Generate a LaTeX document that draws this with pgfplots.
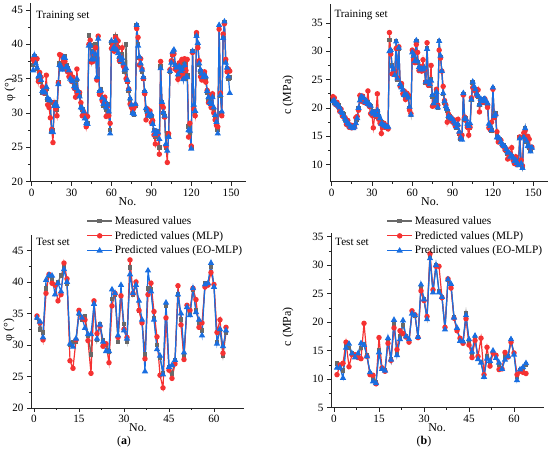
\documentclass[border=0pt]{standalone}
\usepackage{fontspec}
\setmainfont{Liberation Serif}
\usepackage{pgfplots}
\usepackage{pgfplotstable}
\pgfplotsset{compat=1.18}
\definecolor{gr}{RGB}{105,105,105}
\definecolor{rd}{RGB}{245,50,50}
\definecolor{bl}{RGB}{25,110,225}

\pgfplotstableread{
n M R B
1 37.0 37.8 36.2
2 38.3 37.5 38.4
3 37.5 38.0 37.2
4 36.5 37.9 36.6
5 35.0 34.6 35.3
6 35.8 35.9 35.5
7 34.5 35.2 34.8
8 33.0 33.8 33.2
9 33.5 32.9 33.0
10 32.8 33.2 33.0
11 33.5 35.5 33.8
12 32.0 31.2 32.2
13 31.8 30.8 31.9
14 31.5 29.3 31.8
15 27.3 27.6 27.3
16 27.5 25.7 27.2
17 31.2 31.5 31.0
18 31.5 30.6 31.4
19 30.5 29.6 31.0
20 34.5 34.4 34.2
21 37.2 38.5 37.0
22 37.0 38.4 36.8
23 36.5 36.8 36.3
24 38.0 37.6 38.1
25 38.2 37.5 38.0
26 37.0 36.5 36.7
27 36.5 36.0 36.6
28 36.0 35.3 36.2
29 35.5 35.8 35.0
30 35.0 34.6 34.8
31 34.5 35.2 34.6
32 34.0 33.6 33.9
33 33.5 32.3 33.6
34 34.8 36.4 35.0
35 33.0 32.8 33.2
36 32.5 33.0 32.4
37 31.0 31.5 30.8
38 30.5 29.6 30.7
39 30.0 30.2 30.2
40 29.5 29.8 29.2
41 28.3 28.0 28.5
42 28.5 29.5 28.4
43 41.3 40.0 39.8
44 39.8 40.6 39.9
45 37.5 37.4 37.8
46 39.0 37.5 38.8
47 38.0 38.6 37.8
48 40.0 39.5 38.5
49 35.0 34.8 35.2
50 41.0 41.2 40.8
51 33.0 32.7 33.2
52 33.5 33.0 33.3
53 32.0 31.8 32.2
54 31.0 31.5 31.3
55 32.0 32.3 31.8
56 30.5 29.5 30.8
57 31.3 31.0 31.2
58 30.0 29.6 30.2
59 27.5 28.5 27.0
60 40.3 39.4 40.5
61 39.5 39.8 39.3
62 40.0 39.0 39.6
63 41.2 41.0 40.5
64 39.0 39.5 39.2
65 39.5 40.5 38.7
66 38.0 37.6 38.2
67 37.5 38.2 37.7
68 38.5 39.5 38.0
69 37.0 36.8 37.2
70 36.0 36.5 36.3
71 40.0 35.0 36.5
72 34.5 34.6 34.8
73 33.3 33.5 33.5
74 32.0 31.3 32.1
75 31.0 30.8 31.2
76 30.0 30.5 30.0
77 29.8 30.8 29.8
78 31.0 31.2 31.3
79 42.7 42.3 42.8
80 40.0 41.0 39.8
81 38.0 37.0 38.2
82 37.0 37.9 37.2
83 36.0 36.4 36.3
84 35.0 35.0 35.2
85 33.0 32.8 33.2
86 30.5 29.0 30.7
87 30.2 30.6 30.2
88 30.0 29.8 29.6
89 29.7 30.3 29.6
90 29.5 28.6 29.8
91 28.5 28.9 28.4
92 27.5 26.8 27.4
93 26.5 25.5 26.9
94 27.0 27.3 27.3
95 27.3 26.9 27.2
96 25.0 24.0 26.2
97 36.8 37.5 36.5
98 31.5 31.2 31.6
99 30.0 30.8 30.1
100 29.5 29.4 29.6
101 25.0 25.2 25.5
102 27.0 22.8 24.5
103 26.8 27.0 26.5
104 36.0 36.3 36.1
105 37.5 37.6 37.3
106 38.5 38.5 38.9
107 39.0 38.6 39.2
108 37.0 36.4 37.0
109 36.5 36.2 36.6
110 35.5 34.9 35.6
111 37.0 37.3 36.8
112 36.0 35.4 36.1
113 36.5 37.8 36.4
114 35.0 35.5 34.9
115 37.5 37.9 37.0
116 35.0 36.2 35.2
117 35.5 37.8 35.2
118 28.0 26.5 27.5
119 27.0 28.5 27.4
120 25.0 25.2 24.8
121 39.0 38.8 39.0
122 31.0 30.6 31.2
123 30.0 29.6 30.3
124 41.5 41.7 41.2
125 40.0 39.5 40.2
126 37.0 37.6 37.2
127 36.0 35.3 36.3
128 35.5 34.8 35.7
129 35.0 35.6 35.2
130 35.8 36.0 35.5
131 35.0 34.5 35.3
132 33.0 33.3 33.2
133 32.0 31.5 32.3
134 31.5 32.5 31.6
135 31.0 30.8 31.3
136 32.5 32.8 32.3
137 30.5 30.0 30.8
138 29.5 29.0 29.7
139 28.5 28.2 28.7
140 27.5 28.0 27.0
141 42.5 42.2 42.8
142 32.5 32.9 32.6
143 30.0 29.6 30.2
144 41.0 41.5 40.9
145 43.2 43.0 43.3
146 37.5 37.8 37.3
147 36.5 36.0 36.6
148 35.0 36.4 35.3
149 35.2 36.1 32.9
}\tabA

\pgfplotstableread{
n M R B
1 21.5 22.0 21.2
2 21.0 21.8 21.3
3 21.0 20.6 20.8
4 20.8 21.0 20.6
5 20.5 20.2 20.4
6 20.0 19.4 20.1
7 19.5 19.8 19.4
8 19.0 18.6 19.1
9 18.8 18.4 18.6
10 18.0 18.3 18.1
11 17.5 17.1 17.7
12 17.5 17.8 17.3
13 17.0 16.6 17.1
14 16.8 17.0 16.7
15 16.8 16.5 16.6
16 16.5 16.9 16.4
17 16.8 16.6 16.7
18 17.5 18.3 17.3
19 18.0 18.5 18.2
20 20.0 19.6 20.0
21 21.5 22.2 21.3
22 21.8 21.2 22.0
23 22.0 22.1 21.8
24 21.5 21.0 21.7
25 21.2 21.4 21.0
26 21.0 20.8 21.2
27 21.0 23.0 20.7
28 20.5 20.3 20.6
29 20.3 19.0 20.4
30 19.0 18.7 19.3
31 19.5 16.5 19.0
32 19.0 18.6 19.2
33 18.5 19.3 18.7
34 19.5 22.5 19.6
35 18.5 18.0 18.8
36 18.0 17.3 18.2
37 17.5 15.5 17.2
38 17.0 16.6 17.1
39 17.0 17.3 16.9
40 16.8 16.6 16.8
41 16.5 16.9 16.6
42 16.5 16.3 16.7
43 32.0 33.3 30.0
44 30.0 29.5 30.2
45 27.5 26.0 27.3
46 26.5 26.2 26.8
47 26.0 26.5 25.8
48 31.8 30.5 31.7
49 25.0 25.3 25.2
50 30.5 30.8 30.6
51 24.0 23.8 24.2
52 23.8 24.3 23.6
53 23.0 22.5 23.2
54 22.5 23.0 22.3
55 22.0 21.5 22.2
56 22.5 22.6 22.3
57 22.0 22.3 21.8
58 20.0 19.6 20.2
59 18.8 19.0 18.8
60 30.0 30.2 29.8
61 29.0 28.5 29.2
62 28.5 28.0 28.3
63 31.8 31.2 31.9
64 28.0 29.8 28.2
65 27.0 26.6 27.2
66 27.0 27.3 26.8
67 26.8 26.5 26.9
68 27.0 28.5 26.8
69 27.0 26.7 27.1
70 24.5 24.6 24.6
71 30.5 31.5 30.4
72 24.5 24.0 24.6
73 24.0 24.3 24.2
74 25.0 27.5 24.8
75 22.0 20.3 22.3
76 20.5 20.4 20.8
77 21.0 20.8 21.2
78 23.0 23.3 22.8
79 20.0 20.5 20.1
80 31.8 30.2 31.8
81 29.0 28.8 29.2
82 26.5 26.5 26.5
83 22.5 23.8 22.6
84 21.0 21.3 21.2
85 20.0 20.5 20.3
86 19.5 17.5 19.8
87 18.5 18.9 18.6
88 18.5 18.2 18.3
89 18.0 18.3 18.2
90 17.8 17.5 18.0
91 17.5 17.9 17.6
92 17.0 16.8 17.2
93 16.5 17.0 16.6
94 17.0 18.0 17.1
95 15.5 15.6 15.8
96 14.5 14.8 14.8
97 15.0 15.2 14.4
98 22.5 22.3 22.6
99 18.0 18.4 18.2
100 18.2 17.8 18.0
101 17.0 16.6 17.2
102 16.5 15.2 16.8
103 16.5 16.6 17.3
104 21.5 21.8 21.5
105 24.5 23.6 24.6
106 23.5 23.2 23.8
107 23.3 23.0 23.3
108 22.5 22.2 22.5
109 22.0 23.2 22.1
110 20.5 19.3 20.6
111 21.5 21.3 21.6
112 21.0 21.3 21.2
113 21.5 21.0 21.5
114 21.5 21.6 21.6
115 21.0 21.0 21.2
116 20.5 20.1 20.8
117 17.0 16.5 17.2
118 16.5 16.2 16.8
119 16.0 17.5 16.1
120 23.5 23.3 23.6
121 18.5 18.3 18.6
122 19.0 18.8 18.9
123 15.0 15.8 14.8
124 14.5 14.0 14.8
125 14.5 14.1 14.6
126 14.0 14.3 14.0
127 13.5 13.5 13.6
128 13.5 13.2 13.3
129 13.0 12.6 13.2
130 12.5 12.8 12.7
131 12.0 11.0 12.2
132 12.0 11.6 12.1
133 11.5 11.9 11.4
134 11.5 13.0 11.6
135 11.0 10.8 11.2
136 10.5 10.2 10.6
137 11.0 11.4 10.8
138 10.5 10.0 10.3
139 10.0 10.3 9.9
140 14.8 14.9 14.6
141 10.5 10.8 10.2
142 9.5 9.8 9.4
143 15.0 15.6 14.8
144 16.5 16.0 16.4
145 14.0 14.5 14.2
146 13.5 15.0 13.3
147 13.0 14.5 13.2
148 12.5 13.0 12.3
149 13.0 13.1 13.0
}\tabB

\pgfplotstableread{
n M R B
1 34.3 34.6 34.3
2 32.5 33.5 33.7
3 32.0 30.8 31.2
4 39.0 38.2 40.3
5 41.0 41.2 41.1
6 40.5 39.8 41.0
7 39.5 39.5 38.0
8 40.0 37.0 39.8
9 41.0 38.0 38.5
10 42.3 43.0 42.0
11 39.8 40.5 40.0
12 30.0 27.5 30.2
13 30.5 26.3 29.7
14 30.5 30.8 31.0
15 35.0 35.5 35.0
16 34.0 34.3 34.3
17 34.5 34.0 32.7
18 31.5 30.7 31.7
19 28.5 25.5 31.7
20 36.5 37.0 36.5
21 30.8 31.8 31.0
22 33.3 33.0 33.2
23 30.8 29.8 30.5
24 30.0 30.2 29.0
25 29.0 27.2 29.0
26 37.3 36.2 38.8
27 38.0 38.2 38.2
28 30.5 31.2 31.5
29 37.8 37.8 39.5
30 33.3 32.5 32.3
31 30.6 31.2 31.0
32 42.3 43.5 41.2
33 38.0 38.2 38.2
34 39.6 40.0 39.5
35 35.5 35.5 37.0
36 33.8 33.5 34.0
37 28.5 27.8 25.8
38 39.0 38.0 41.8
39 38.8 39.8 38.5
40 34.2 35.3 34.0
41 30.0 31.3 29.3
42 28.0 25.2 28.3
43 25.5 23.2 25.3
44 36.2 34.3 36.7
45 26.5 26.0 26.5
46 25.5 24.7 26.8
47 27.5 27.0 27.6
48 38.0 39.4 38.0
49 34.0 33.2 35.0
50 28.3 27.7 28.8
51 36.0 36.3 36.0
52 35.0 35.5 34.7
53 38.8 39.0 39.0
54 35.5 37.2 35.2
55 33.5 32.8 34.0
56 32.3 33.5 31.5
57 39.8 39.2 39.6
58 39.6 39.5 39.8
59 42.5 41.5 43.0
60 39.4 39.6 39.2
61 30.5 32.0 30.2
62 32.4 34.0 32.5
63 28.3 28.7 29.8
64 32.0 32.8 32.3
}\tabC

\pgfplotstableread{
n M R B
1 12.8 10.8 12.0
2 12.2 12.5 12.0
3 11.5 12.8 10.2
4 15.8 16.5 15.5
5 15.5 12.2 16.2
6 14.5 14.3 14.5
7 14.0 14.3 13.8
8 14.2 13.8 14.5
9 15.5 13.6 16.3
10 16.2 19.8 16.0
11 14.2 14.0 14.0
12 11.0 10.8 11.2
13 10.0 10.7 9.6
14 9.4 9.2 9.3
15 15.0 17.3 14.7
16 11.8 12.0 11.8
17 11.6 11.4 11.5
18 16.8 16.3 17.2
19 13.5 13.3 13.4
20 19.8 19.0 20.4
21 14.5 15.2 14.2
22 17.5 18.5 17.0
23 19.5 18.0 20.3
24 17.5 17.4 17.5
25 16.5 16.5 17.0
26 21.8 22.0 21.5
27 21.2 21.3 21.2
28 17.4 17.3 17.4
29 26.2 25.5 26.6
30 24.0 23.8 24.0
31 20.8 21.0 20.5
32 31.6 32.0 31.2
33 25.4 25.7 25.2
34 30.0 29.8 30.0
35 25.5 29.8 25.2
36 24.4 24.3 24.4
37 18.9 19.1 18.7
38 27.4 27.6 27.5
39 26.5 26.0 26.7
40 20.8 20.7 20.8
41 18.8 18.5 19.0
42 17.0 17.2 16.7
43 16.5 16.3 16.6
44 21.6 20.6 21.2
45 16.5 16.0 17.0
46 14.5 13.8 14.8
47 17.2 16.8 17.6
48 13.6 14.0 13.5
49 13.0 17.2 12.9
50 10.6 10.8 10.4
51 14.0 15.6 13.6
52 13.0 12.3 13.2
53 14.8 14.6 15.0
54 14.0 14.2 13.7
55 12.5 11.7 12.9
56 11.8 11.8 11.8
57 14.0 14.7 13.4
58 14.0 13.9 14.0
59 16.8 16.5 17.0
60 14.5 14.6 14.3
61 10.4 10.8 9.8
62 11.6 11.4 11.7
63 12.0 11.2 12.1
64 12.6 11.0 12.8
}\tabD

\pgfplotsset{
  myax/.style={
    scale only axis,
    axis lines=left,
    axis line style={-, line width=0.8bp, black!85},
    tick align=outside,
    tick style={line width=0.8bp, black!85},
    major tick length=4bp,
    minor tick length=2.2bp,
    minor tick num=1,
    /pgf/number format/assume math mode=true,
    ticklabel style={font=\fontsize{11.2}{13}\selectfont},
    label style={font=\fontsize{12}{14}\selectfont},
    legend cell align=left,
  },
  meas/.style={color=gr, line width=1.2bp, mark=square*, mark size=1.7bp, mark options={solid}},
  mlp/.style={color=rd, line width=1.2bp, mark=*, mark size=2.1bp, mark options={solid}},
  eo/.style={color=bl, line width=1.2bp, mark=triangle*, mark size=2.5bp, mark options={solid}},
  myleg/.style={
    legend style={draw=none, fill=none, font=\fontsize{11.4}{13}\selectfont,
      row sep=1.5bp, inner sep=0pt, anchor=north west},
    legend image code/.code={\draw[mark repeat=2,mark phase=2] plot coordinates {(0bp,0bp) (12.5bp,0bp) (25bp,0bp)};},
  },
}

\begin{document}
\begin{tikzpicture}
\path[use as bounding box] (0,0) rectangle (550bp,-453bp);

% top-left
\begin{axis}[myax, at={(30.4bp,-181.7bp)}, anchor=south west,
  width=215.3bp, height=178.6bp,
  xmin=-1, xmax=161, ymin=20, ymax=46,
  xtick={0,30,...,150}, ytick={20,25,...,45},
  xlabel={No.}, ylabel={φ (°)},
  xlabel style={at={(axis description cs:0.451,-0.114)}, anchor=center},
  ylabel style={at={(axis description cs:-0.095,0.513)}, anchor=center},
]
\addplot[meas] table[x=n,y=M] {\tabA};
\addplot[mlp] table[x=n,y=R] {\tabA};
\addplot[eo] table[x=n,y=B] {\tabA};
\end{axis}

% top-right
\begin{axis}[myax, at={(330.3bp,-181.7bp)}, anchor=south west,
  width=217.7bp, height=177.5bp,
  xmin=-1, xmax=161, ymin=7, ymax=38.3,
  xtick={0,30,...,150}, ytick={10,15,...,35},
  xlabel={No.}, ylabel={c (MPa)},
  xlabel style={at={(axis description cs:0.458,-0.113)}, anchor=center},
  ylabel style={at={(axis description cs:-0.194,0.489)}, anchor=center},
]
\addplot[meas] table[x=n,y=M] {\tabB};
\addplot[mlp] table[x=n,y=R] {\tabB};
\addplot[eo] table[x=n,y=B] {\tabB};
\end{axis}

% bottom-left
\begin{axis}[myax, myleg, at={(31bp,-408bp)}, anchor=south west,
  width=213bp, height=173.3bp,
  xmin=-1, xmax=70, ymin=20, ymax=47.5,
  xtick={0,15,...,60}, ytick={20,25,...,45},
  xlabel={No.}, ylabel={φ (°)},
  xlabel style={at={(axis description cs:0.502,-0.115)}, anchor=center},
  ylabel style={at={(axis description cs:-0.103,0.45)}, anchor=center},
  legend style={at={(axis description cs:0.26,1.119)}},
]
\addplot[meas] table[x=n,y=M] {\tabC};
\addlegendentry{Measured values}
\addplot[mlp] table[x=n,y=R] {\tabC};
\addlegendentry{Predicted values (MLP)}
\addplot[eo] table[x=n,y=B] {\tabC};
\addlegendentry{Predicted values (EO-MLP)}
\end{axis}

% bottom-right
\begin{axis}[myax, myleg, at={(331bp,-407.7bp)}, anchor=south west,
  width=213bp, height=174.4bp,
  xmin=-1, xmax=70, ymin=5, ymax=35.6,
  xtick={0,15,...,60}, ytick={5,10,...,35},
  xlabel={No.}, ylabel={c (MPa)},
  xlabel style={at={(axis description cs:0.498,-0.116)}, anchor=center},
  ylabel style={at={(axis description cs:-0.202,0.464)}, anchor=center},
  legend style={at={(axis description cs:0.26,1.11)}},
]
\addplot[meas] table[x=n,y=M] {\tabD};
\addlegendentry{Measured values}
\addplot[mlp] table[x=n,y=R] {\tabD};
\addlegendentry{Predicted values (MLP)}
\addplot[eo] table[x=n,y=B] {\tabD};
\addlegendentry{Predicted values (EO-MLP)}
\end{axis}

\node[anchor=west, font=\fontsize{11.2}{13}\selectfont, inner sep=0pt] at (36bp,-16bp) {Training set};
\node[anchor=west, font=\fontsize{11.2}{13}\selectfont, inner sep=0pt] at (334.3bp,-15bp) {Training set};
\node[anchor=west, font=\fontsize{11.2}{13}\selectfont, inner sep=0pt] at (36bp,-242bp) {Test set};
\node[anchor=west, font=\fontsize{11.2}{13}\selectfont, inner sep=0pt] at (335bp,-242bp) {Test set};
\node[font=\fontsize{12}{14}\selectfont] at (124bp,-441.5bp) {(\textbf{a})};
\node[font=\fontsize{12}{14}\selectfont] at (424bp,-441.5bp) {(\textbf{b})};
\end{tikzpicture}
\end{document}
